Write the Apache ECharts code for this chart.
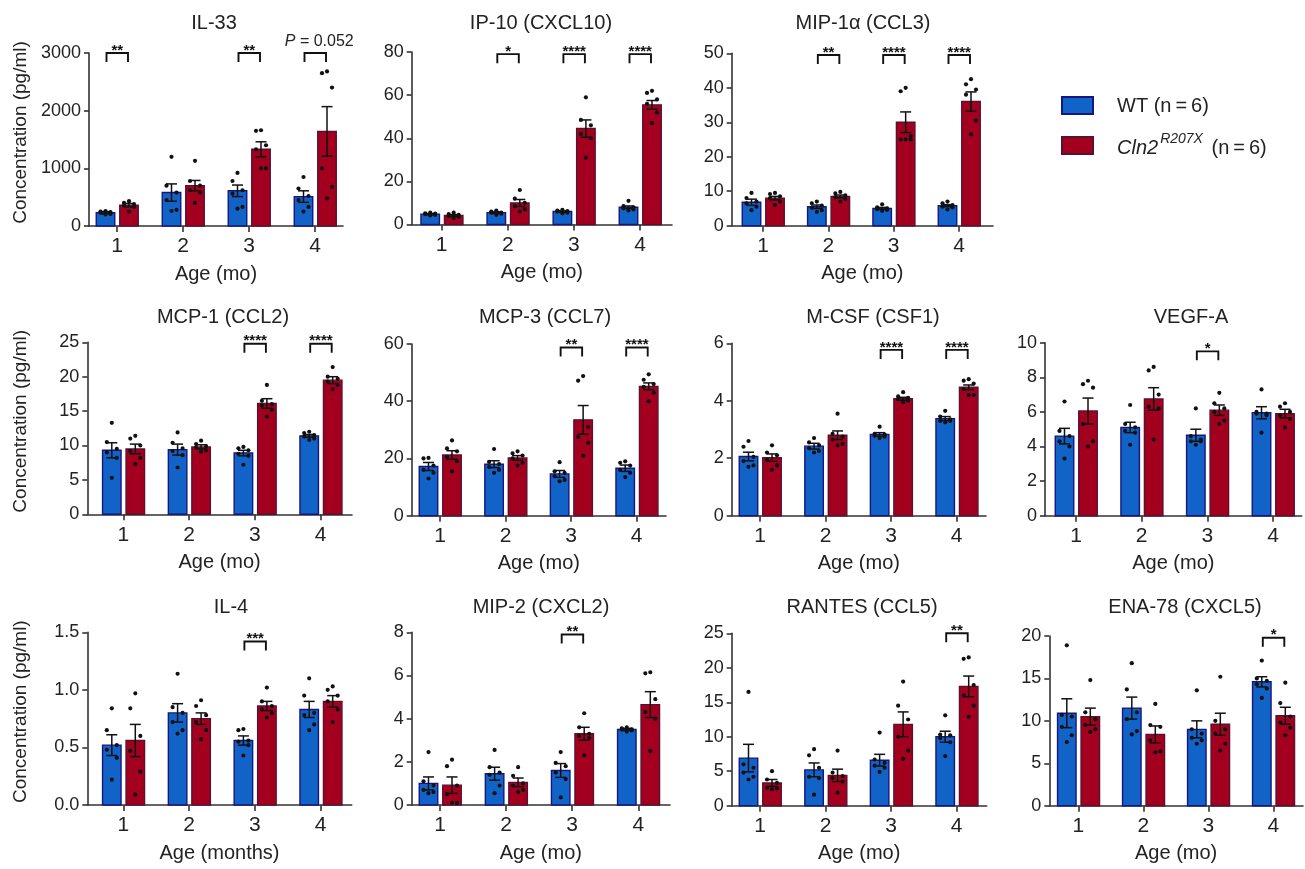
<!DOCTYPE html>
<html><head><meta charset="utf-8">
<script src="https://cdn.jsdelivr.net/npm/echarts@6/dist/echarts.min.js"></script>
<style>html,body{margin:0;padding:0;background:#fff}#c{width:1305px;height:869px}</style>
</head><body><div id="c"></div>
<script>
// ---------------- DATA ----------------
const categories = ['1', '2', '3', '4'];

// IL-33
const il33Wt = [230, 580, 610, 510];
const il33WtSem = [20, 150, 100, 100];
const il33WtDots = [[260,250,240,230,210,200],[1200,700,580,450,280,260],[920,780,620,560,330,300],[850,650,520,450,330,250]];
const il33Ko = [360, 700, 1330, 1640];
const il33KoSem = [30, 90, 130, 430];
const il33KoDots = [[430,400,380,360,330,250],[1130,780,700,620,580,400],[1660,1650,1400,1330,1000,1000],[2680,2650,2400,1000,680,480]];
const il33SigCats = [1, 3, 4];
const il33SigLabels = ['**', '**', 'P = 0.052'];
const il33SigY = [3000, 3000, 3000];

// IP-10 (CXCL10)
const ip10Wt = [4.8, 5.5, 6.0, 8.0];
const ip10WtSem = [0.3, 0.4, 0.3, 0.6];
const ip10WtDots = [[5.5,5.2,5.0,4.8,4.5,4.2],[6.5,6.0,5.5,5.5,5.0,4.5],[6.8,6.5,6.2,6.0,5.5,5.2],[11,8.5,8,7.5,7,6.5]];
const ip10Ko = [4.2, 10, 44.5, 55.5];
const ip10KoSem = [0.4, 1.6, 4, 2];
const ip10KoDots = [[5.5,4.8,4.5,4.0,3.5,3.0],[16,12,10,8.5,7,6],[59,48.5,46,42,40,31],[62,61,58,56,52,47]];
const ip10SigCats = [2, 3, 4];
const ip10SigLabels = ['*', '****', '****'];
const ip10SigY = [79, 79, 79];

// MIP-1a (CCL3)
const mip1aWt = [6.8, 5.5, 5.0, 5.8];
const mip1aWtSem = [0.9, 0.5, 0.3, 0.3];
const mip1aWtDots = [[9.5,8,7,6.5,5.5,4.5],[7,6.5,5.8,5.2,4.5,4],[6.2,5.3,5,4.8,4.6,4.3],[7,6.5,6,5.5,5.3,4.7]];
const mip1aKo = [8.0, 8.5, 30, 36];
const mip1aKoSem = [0.5, 0.4, 3, 2.8];
const mip1aKoDots = [[9.5,9.2,8.5,8,7,6],[9.8,9.4,8.8,8.3,7.8,7],[40,39,26,25,25,25],[42.5,41,39.5,38,30.5,26.5]];
const mip1aSigCats = [2, 3, 4];
const mip1aSigLabels = ['**', '****', '****'];
const mip1aSigY = [49.5, 49.5, 49.5];

// MCP-1 (CCL2)
const mcp1Wt = [9.3, 9.4, 8.9, 11.4];
const mcp1WtSem = [1.1, 0.8, 0.4, 0.2];
const mcp1WtDots = [[13.3,10.5,9.5,9,8.2,5.3],[11.9,10.4,9.6,9.2,8.6,6.8],[9.8,9.6,9.3,8.8,8.5,7.2],[12,11.8,11.5,11.3,11,10.8]];
const mcp1Ko = [9.5, 9.8, 16.1, 19.5];
const mcp1KoSem = [0.7, 0.3, 0.7, 0.5];
const mcp1KoDots = [[11.4,11,10,9.2,8.2,7.3],[10.7,10.2,9.9,9.7,9.3,9.1],[18.8,16.5,16,15.8,15.2,14.2],[21.4,20,19.7,19.3,18.8,18.2]];
const mcp1SigCats = [3, 4];
const mcp1SigLabels = ['****', '****'];
const mcp1SigY = [24.8, 24.8];

// MCP-3 (CCL7)
const mcp3Wt = [17.2, 18, 14.6, 16.6];
const mcp3WtSem = [1.4, 1.2, 1.2, 1.1];
const mcp3WtDots = [[20.2,20,17.5,16,15,13],[23.3,18.8,18,17,16,15],[18.7,15.5,15,13.8,12.5,12],[19,18.5,17.5,16,15,13.5]];
const mcp3Ko = [21.2, 20.2, 33.5, 45.2];
const mcp3KoSem = [1.5, 0.8, 5, 1.2];
const mcp3KoDots = [[26.3,23.5,22.5,20.5,19,15.5],[22.5,21.8,21,20,18.5,17.5],[48.8,47.2,31,27.5,25.5,21],[49.4,47.5,46,45,43,40]];
const mcp3SigCats = [3, 4];
const mcp3SigLabels = ['**', '****'];
const mcp3SigY = [58.8, 58.8];

// M-CSF (CSF1)
const mcsfWt = [2.06, 2.42, 2.83, 3.38];
const mcsfWtSem = [0.15, 0.1, 0.06, 0.07];
const mcsfWtDots = [[2.6,2.4,2.05,1.9,1.75,1.7],[2.7,2.55,2.45,2.35,2.25,2.2],[3.1,2.85,2.82,2.78,2.75,2.7],[3.65,3.45,3.35,3.3,3.3,3.25]];
const mcsfKo = [2.02, 2.8, 4.07, 4.47];
const mcsfKoSem = [0.13, 0.15, 0.05, 0.08];
const mcsfKoDots = [[2.45,2.2,2.1,1.95,1.75,1.6],[3.55,2.85,2.75,2.65,2.5,2.45],[4.3,4.15,4.1,4.05,4.0,3.95],[4.75,4.7,4.6,4.4,4.2,4.2]];
const mcsfSigCats = [3, 4];
const mcsfSigLabels = ['****', '****'];
const mcsfSigY = [5.77, 5.77];

// VEGF-A
const vegfWt = [4.6, 5.1, 4.65, 5.95];
const vegfWtSem = [0.45, 0.3, 0.35, 0.35];
const vegfWtDots = [[6.6,4.9,4.6,4.3,4.0,3.3],[6.4,5.3,5.1,4.9,4.8,4.1],[6.2,4.6,4.4,4.3,4.3,4.1],[7.3,6.0,5.9,5.9,5.8,4.8]];
const vegfKo = [6.05, 6.75, 6.1, 5.9];
const vegfKoSem = [0.75, 0.65, 0.3, 0.25];
const vegfKoDots = [[7.8,7.6,7.4,5.3,4.3,4.0],[8.6,8.4,7.0,6.3,6.2,4.4],[7.1,6.5,6.2,6.0,5.5,5.3],[6.5,6.3,6.0,5.8,5.6,5.1]];
const vegfSigCats = [3];
const vegfSigLabels = ['*'];
const vegfSigY = [9.5];

// IL-4
const il4Wt = [0.52, 0.80, 0.56, 0.83];
const il4WtSem = [0.09, 0.08, 0.04, 0.07];
const il4WtDots = [[0.84,0.65,0.52,0.48,0.41,0.22],[1.14,0.85,0.8,0.72,0.65,0.62],[0.66,0.65,0.56,0.55,0.52,0.43],[1.1,0.95,0.8,0.78,0.7,0.65]];
const il4Ko = [0.56, 0.75, 0.86, 0.90];
const il4KoSem = [0.14, 0.05, 0.04, 0.05];
const il4KoDots = [[0.97,0.84,0.6,0.47,0.29,0.09],[0.91,0.86,0.78,0.72,0.65,0.57],[1.02,0.9,0.86,0.83,0.8,0.76],[1.03,1.0,0.95,0.9,0.83,0.72]];
const il4SigCats = [3];
const il4SigLabels = ['***'];
const il4SigY = [1.42];

// MIP-2 (CXCL2)
const mip2Wt = [1.0, 1.45, 1.6, 3.5];
const mip2WtSem = [0.3, 0.3, 0.32, 0.05];
const mip2WtDots = [[2.45,1.1,0.9,0.7,0.6,0.55],[2.55,1.75,1.5,1.4,0.9,0.55],[2.45,1.95,1.8,1.5,1.2,0.35],[3.6,3.55,3.5,3.5,3.45,3.4]];
const mip2Ko = [0.92, 1.05, 3.3, 4.65];
const mip2KoSem = [0.38, 0.2, 0.3, 0.6];
const mip2KoDots = [[2.1,1.8,0.9,0.5,0.1,0.1],[1.75,1.35,1.0,0.9,0.7,0.6],[4.25,3.6,3.3,3.2,3.1,2.3],[6.15,6.1,4.9,4.3,4.0,2.5]];
const mip2SigCats = [3];
const mip2SigLabels = ['**'];
const mip2SigY = [7.9];

// RANTES (CCL5)
const rantesWt = [6.9, 5.2, 6.6, 10.0];
const rantesWtSem = [2.0, 1.0, 0.85, 0.8];
const rantesWtDots = [[16.5,6.0,5.5,4.8,4.2,3.8],[8.2,7.3,5.5,4.2,4.0,1.6],[10.6,6.7,6.2,5.8,5.5,4.9],[13.1,10.3,10.2,9.8,9.2,7.2]];
const rantesKo = [3.3, 4.4, 11.8, 17.3];
const rantesKoSem = [0.5, 0.9, 1.8, 1.5];
const rantesKoDots = [[5.0,3.8,3.3,2.6,2.5,2.4],[8.0,4.8,4.3,4.0,3.5,1.9],[18.0,14.5,12.5,10.0,8.0,6.8],[21.5,21.3,17.5,16.0,14.5,12.9]];
const rantesSigCats = [4];
const rantesSigLabels = ['**'];
const rantesSigY = [25];

// ENA-78 (CXCL5)
const ena78Wt = [10.9, 11.5, 9.0, 14.6];
const ena78WtSem = [1.7, 1.3, 1.0, 0.6];
const ena78WtDots = [[18.9,10.7,10.5,9.3,8.3,7.5],[16.8,13.7,11.0,10.2,8.8,8.4],[13.6,9.0,8.5,8.0,7.7,7.3],[17.1,15.0,14.7,14.3,13.8,12.7]];
const ena78Ko = [10.5, 8.4, 9.6, 10.6];
const ena78KoSem = [1.0, 1.0, 1.3, 1.0];
const ena78KoDots = [[14.8,11.0,10.2,9.5,9.0,8.7],[12.0,9.5,9.3,7.7,6.4,6.3],[15.2,10.0,9.0,8.5,7.3,6.5],[14.5,12.1,10.5,9.8,9.2,8.3]];
const ena78SigCats = [4];
const ena78SigLabels = ['*'];
const ena78SigY = [19.8];

const legendLabels = ['WT (n\u2009=\u20096)', 'Cln2', 'R207X', ' (n\u2009=\u20096)'];
const yAxisTitle = 'Concentration (pg/ml)';

// ---------------- STYLE / LAYOUT ----------------
const FONT = '"Liberation Sans", Arial, Helvetica, sans-serif';
const TXT = '#222';
const AX = '#333';
const BLUE = '#1263c8', BLUE_EDGE = '#16177e';
const RED = '#a3001f', RED_EDGE = '#5c1030';
const BAR_W = 18.5, OFF_L = 11.5, OFF_R = 12;
const JIT = [0, -5, 5, -5, 5, 0];
const TITLE_Y = [21, 315, 605];

const panels = [
  {title:'IL-33', tx:209, row:0, L:89, T:53, R:343, B:226, c1:117, c4:315, max:3000, step:1000, dec:0, xName:'Age (mo)', yName:true,
   wt:il33Wt, wtSem:il33WtSem, wtDots:il33WtDots, ko:il33Ko, koSem:il33KoSem, koDots:il33KoDots, sc:il33SigCats, sl:il33SigLabels, sy:il33SigY},
  {title:'IP-10 (CXCL10)', tx:536, row:0, L:411.7, T:52, R:672, B:224.5, c1:441.7, c4:640, max:80, step:20, dec:0, xName:'Age (mo)',
   wt:ip10Wt, wtSem:ip10WtSem, wtDots:ip10WtDots, ko:ip10Ko, koSem:ip10KoSem, koDots:ip10KoDots, sc:ip10SigCats, sl:ip10SigLabels, sy:ip10SigY},
  {title:'MIP-1\u03b1 (CCL3)', tx:858, row:0, L:731.7, T:53.3, R:993, B:225.7, c1:763, c4:959, max:50, step:10, dec:0, xName:'Age (mo)',
   wt:mip1aWt, wtSem:mip1aWtSem, wtDots:mip1aWtDots, ko:mip1aKo, koSem:mip1aKoSem, koDots:mip1aKoDots, sc:mip1aSigCats, sl:mip1aSigLabels, sy:mip1aSigY},
  {title:'MCP-1 (CCL2)', tx:218, row:1, L:87.3, T:342.3, R:352, B:514.3, c1:123.3, c4:320.7, max:25, step:5, dec:0, xName:'Age (mo)', yName:true,
   wt:mcp1Wt, wtSem:mcp1WtSem, wtDots:mcp1WtDots, ko:mcp1Ko, koSem:mcp1KoSem, koDots:mcp1KoDots, sc:mcp1SigCats, sl:mcp1SigLabels, sy:mcp1SigY},
  {title:'MCP-3 (CCL7)', tx:540, row:1, L:411.7, T:344, R:666, B:515.7, c1:440, c4:636.7, max:60, step:20, dec:0, xName:'Age (mo)',
   wt:mcp3Wt, wtSem:mcp3WtSem, wtDots:mcp3WtDots, ko:mcp3Ko, koSem:mcp3KoSem, koDots:mcp3KoDots, sc:mcp3SigCats, sl:mcp3SigLabels, sy:mcp3SigY},
  {title:'M-CSF (CSF1)', tx:868, row:1, L:731.7, T:343.3, R:986, B:515.7, c1:760, c4:956.7, max:6, step:2, dec:0, xName:'Age (mo)',
   wt:mcsfWt, wtSem:mcsfWtSem, wtDots:mcsfWtDots, ko:mcsfKo, koSem:mcsfKoSem, koDots:mcsfKoDots, sc:mcsfSigCats, sl:mcsfSigLabels, sy:mcsfSigY},
  {title:'VEGF-A', tx:1186, row:1, L:1045, T:342.7, R:1301.7, B:515.7, c1:1076, c4:1273, max:10, step:2, dec:0, xName:'Age (mo)',
   wt:vegfWt, wtSem:vegfWtSem, wtDots:vegfWtDots, ko:vegfKo, koSem:vegfKoSem, koDots:vegfKoDots, sc:vegfSigCats, sl:vegfSigLabels, sy:vegfSigY},
  {title:'IL-4', tx:226, row:2, L:87.3, T:632.3, R:351.7, B:805, c1:123.3, c4:320.7, max:1.5, step:0.5, dec:1, xName:'Age (months)', yName:true,
   wt:il4Wt, wtSem:il4WtSem, wtDots:il4WtDots, ko:il4Ko, koSem:il4KoSem, koDots:il4KoDots, sc:il4SigCats, sl:il4SigLabels, sy:il4SigY},
  {title:'MIP-2 (CXCL2)', tx:536, row:2, L:411.7, T:632.3, R:670, B:805, c1:440, c4:638.3, max:8, step:2, dec:0, xName:'Age (mo)',
   wt:mip2Wt, wtSem:mip2WtSem, wtDots:mip2WtDots, ko:mip2Ko, koSem:mip2KoSem, koDots:mip2KoDots, sc:mip2SigCats, sl:mip2SigLabels, sy:mip2SigY},
  {title:'RANTES (CCL5)', tx:857, row:2, L:731.7, T:633.3, R:986.7, B:805.7, c1:760, c4:956.7, max:25, step:5, dec:0, xName:'Age (mo)',
   wt:rantesWt, wtSem:rantesWtSem, wtDots:rantesWtDots, ko:rantesKo, koSem:rantesKoSem, koDots:rantesKoDots, sc:rantesSigCats, sl:rantesSigLabels, sy:rantesSigY},
  {title:'ENA-78 (CXCL5)', tx:1180, row:2, L:1049.3, T:636, R:1303, B:805.7, c1:1078.3, c4:1273.3, max:20, step:5, dec:0, xName:'Age (mo)',
   wt:ena78Wt, wtSem:ena78WtSem, wtDots:ena78WtDots, ko:ena78Ko, koSem:ena78KoSem, koDots:ena78KoDots, sc:ena78SigCats, sl:ena78SigLabels, sy:ena78SigY}
];

// ---------------- RENDERERS ----------------
function barsRender(params, api) {
  const cat = api.value(0), mean = api.value(1), sem = api.value(2), g = api.value(3);
  const base = api.coord([cat, 0]);
  const top = api.coord([cat, mean]);
  const cx = base[0] + (g ? OFF_R : -OFF_L);
  const hi = api.coord([cat, mean + sem])[1];
  const lo = api.coord([cat, Math.max(0, mean - sem)])[1];
  const ls = {stroke:'#111', lineWidth:1.5};
  return {type:'group', children:[
    {type:'rect', shape:{x:cx - BAR_W/2, y:top[1], width:BAR_W, height:base[1] - top[1]},
     style:{fill:g ? RED : BLUE, stroke:g ? RED_EDGE : BLUE_EDGE, lineWidth:1.4}},
    {type:'line', shape:{x1:cx, y1:hi, x2:cx, y2:lo}, style:ls},
    {type:'line', shape:{x1:cx - 5.5, y1:hi, x2:cx + 5.5, y2:hi}, style:ls},
    {type:'line', shape:{x1:cx - 5.5, y1:lo, x2:cx + 5.5, y2:lo}, style:ls}
  ]};
}
function dotsRender(params, api) {
  const cat = api.value(0), v = api.value(1), g = api.value(2), i = api.value(3);
  const p = api.coord([cat, v]);
  const cx = p[0] + (g ? OFF_R : -OFF_L) + JIT[i];
  return {type:'circle', shape:{cx:cx, cy:p[1], r:2.1}, style:{fill:'#111'}};
}
function makeSigRender(labels) {
  return function (params, api) {
    const cat = api.value(0), y = api.value(1);
    const p = api.coord([cat, y]);
    const xl = p[0] - OFF_L + 1, xr = p[0] + OFF_R - 1, leg = 9;
    const lab = labels[params.dataIndex];
    const isP = lab.charAt(0) === 'P';
    const txt = isP
      ? {type:'text', x:(xl + xr)/2 + 4, y:p[1] - 3, style:{text:'{i|P}' + lab.slice(1), align:'center', verticalAlign:'bottom',
          fontSize:16, fontFamily:FONT, fill:TXT, rich:{i:{fontStyle:'italic', fontSize:16, fontFamily:FONT, fill:TXT}}}}
      : {type:'text', x:(xl + xr)/2, y:p[1] + 5, style:{text:lab, align:'center', verticalAlign:'bottom',
          fontSize:15, fontWeight:'bold', fontFamily:FONT, fill:'#111'}};
    return {type:'group', children:[
      {type:'polyline', shape:{points:[[xl, p[1] + leg], [xl, p[1]], [xr, p[1]], [xr, p[1] + leg]]},
       style:{stroke:'#111', lineWidth:1.9, fill:'none'}},
      txt
    ]};
  };
}

// ---------------- OPTION ----------------
const grid = [], xAxis = [], yAxis = [], series = [], title = [], graphic = [];
panels.forEach(function (pn, k) {
  const unit = (pn.c4 - pn.c1) / 3;
  grid.push({left:pn.L, top:pn.T, width:pn.R - pn.L, height:pn.B - pn.T});
  xAxis.push({
    type:'value', gridIndex:k, min:1 - (pn.c1 - pn.L)/unit, max:4 + (pn.R - pn.c4)/unit,
    splitLine:{show:false},
    axisLine:{show:true, lineStyle:{color:AX, width:1.6}},
    axisTick:{show:true, length:6, customValues:[1,2,3,4], lineStyle:{color:AX, width:1.6}},
    axisLabel:{customValues:[1,2,3,4], formatter:function (v) { return categories[Math.round(v) - 1]; },
      fontSize:21, color:TXT, fontFamily:FONT, margin:10},
    name:pn.xName, nameLocation:'middle', nameGap:38,
    nameTextStyle:{fontSize:20, color:TXT, fontFamily:FONT}
  });
  yAxis.push({
    type:'value', gridIndex:k, min:0, max:pn.max, interval:pn.step,
    splitLine:{show:false},
    axisLine:{show:true, lineStyle:{color:AX, width:1.6}},
    axisTick:{show:true, length:5, lineStyle:{color:AX, width:1.6}},
    axisLabel:{fontSize:18, color:TXT, fontFamily:FONT, margin:8,
      formatter:function (v) { return v.toFixed(pn.dec); }}
  });
  title.push({text:pn.title, left:pn.tx, top:TITLE_Y[pn.row] - 13, textAlign:'center',
    textStyle:{fontSize:20, fontWeight:'normal', color:TXT, fontFamily:FONT}});
  if (pn.yName) {
    graphic.push({type:'text', x:21, y:(pn.T + pn.B)/2 - 7, rotation:Math.PI/2,
      style:{text:yAxisTitle, align:'center', verticalAlign:'middle', fontSize:19, fontFamily:FONT, fill:TXT}});
  }
  const barData = [];
  const dotData = [];
  for (let c = 0; c < 4; c++) {
    barData.push([c + 1, pn.wt[c], pn.wtSem[c], 0]);
    barData.push([c + 1, pn.ko[c], pn.koSem[c], 1]);
    pn.wtDots[c].forEach(function (v, i) { dotData.push([c + 1, v, 0, i]); });
    pn.koDots[c].forEach(function (v, i) { dotData.push([c + 1, v, 1, i]); });
  }
  series.push({type:'custom', name:pn.title + ' bars', xAxisIndex:k, yAxisIndex:k, renderItem:barsRender,
    encode:{x:0, y:1}, data:barData, z:2});
  series.push({type:'custom', name:pn.title + ' dots', xAxisIndex:k, yAxisIndex:k, renderItem:dotsRender,
    encode:{x:0, y:1}, data:dotData, z:3});
  series.push({type:'custom', name:pn.title + ' sig', xAxisIndex:k, yAxisIndex:k, renderItem:makeSigRender(pn.sl),
    encode:{x:0, y:1}, data:pn.sc.map(function (c, i) { return [c, pn.sy[i]]; }), z:4});
});

// legend
graphic.push({type:'rect', shape:{x:1062, y:97, width:31, height:17}, style:{fill:BLUE, stroke:BLUE_EDGE, lineWidth:2}});
graphic.push({type:'rect', shape:{x:1062, y:137, width:31, height:17}, style:{fill:RED, stroke:RED_EDGE, lineWidth:2}});
graphic.push({type:'text', x:1117, y:106, style:{text:legendLabels[0], verticalAlign:'middle', fontSize:20, fontFamily:FONT, fill:TXT}});
graphic.push({type:'text', x:1117, y:145, style:{
  text:'{i|' + legendLabels[1] + '}{s|' + legendLabels[2] + '}{n|' + legendLabels[3] + '}',
  verticalAlign:'middle', fontSize:20, fontFamily:FONT, fill:TXT,
  rich:{
    i:{fontStyle:'italic', fontSize:20, fontFamily:FONT, fill:TXT, lineHeight:26, verticalAlign:'bottom'},
    s:{fontStyle:'italic', fontSize:14, fontFamily:FONT, fill:TXT, lineHeight:16, verticalAlign:'top', padding:[0,3,0,2]},
    n:{fontSize:20, fontFamily:FONT, fill:TXT, lineHeight:26, verticalAlign:'bottom'}
  }}});

const chart = echarts.init(document.getElementById('c'), null, {renderer:'canvas'});
chart.setOption({animation:false, backgroundColor:'#fff', grid:grid, xAxis:xAxis, yAxis:yAxis, title:title, graphic:graphic, series:series});
</script>
</body></html>
